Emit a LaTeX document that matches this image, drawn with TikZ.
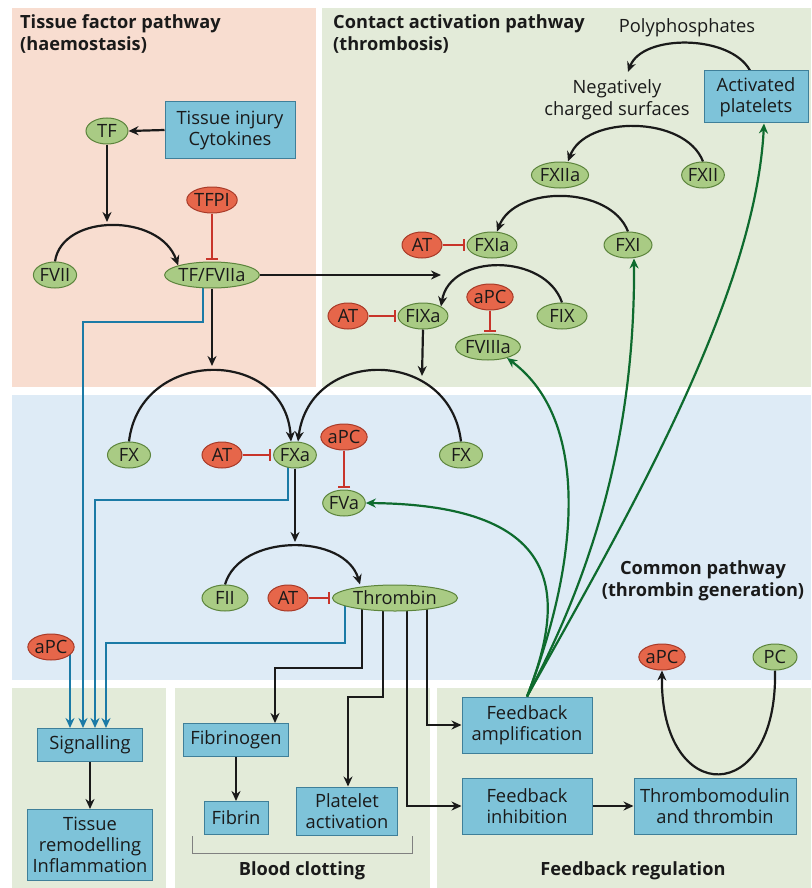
\documentclass[tikz,border=0pt]{standalone}
\usepackage{fontspec}
\setmainfont{Open Sans}
\usetikzlibrary{arrows.meta,shapes.geometric}
\definecolor{salmonbg}{HTML}{F8DDD0}
\definecolor{greenbg}{HTML}{E3EBD9}
\definecolor{bluebg}{HTML}{DEEBF6}
\definecolor{boxfill}{HTML}{7EC3D9}
\definecolor{boxedge}{HTML}{3F7F99}
\definecolor{gfill}{HTML}{A9CB84}
\definecolor{gedge}{HTML}{5C843C}
\definecolor{rfill}{HTML}{E6664A}
\definecolor{redge}{HTML}{A83A28}
\definecolor{inhred}{HTML}{C8342A}
\definecolor{sigblue}{HTML}{1B7AA6}
\definecolor{fbgreen}{HTML}{0E6B2E}
\definecolor{ink}{HTML}{1A1A1A}
\pgfdeclarelayer{bg}
\pgfdeclarelayer{mid}
\pgfsetlayers{bg,mid,main}
\begin{document}
\begin{tikzpicture}[x=1pt,y=-1pt,
  font=\fontsize{18.3}{21}\selectfont, text=ink,
  gnode/.style={ellipse, draw=gedge, fill=gfill, line width=1pt, inner xsep=0pt, inner ysep=0pt, minimum height=26pt},
  rnode/.style={ellipse, draw=redge, fill=rfill, line width=1pt, inner xsep=0pt, inner ysep=0pt, minimum height=26pt},
  bbox/.style={rectangle, draw=boxedge, fill=boxfill, line width=1pt, align=center, inner sep=2pt},
  ttl/.style={font=\bfseries\fontsize{18.2}{22}\selectfont, align=left, inner sep=0pt},
  ctl/.style={font=\bfseries\fontsize{18.2}{22}\selectfont, align=center, inner sep=0pt},
  blk/.style={line width=2.2pt, draw=ink, -{Stealth[length=10pt,width=9pt]}},
  inh/.style={line width=2pt, draw=inhred, -{Bar[width=12pt,line width=2pt]}, shorten >=2pt},
  bl/.style={line width=2.2pt, draw=sigblue, -{Stealth[length=10pt,width=9pt]}},
  gr/.style={line width=2.2pt, draw=fbgreen, -{Stealth[length=10pt,width=9pt]}}
]
\useasboundingbox (0,0) rectangle (811,888);

% panels
\begin{pgfonlayer}{bg}
\fill[white] (0,0) rectangle (811,888);
\fill[salmonbg] (12,8) rectangle (316,387);
\fill[greenbg] (322,8) rectangle (811,387);
\fill[bluebg] (12,395) rectangle (811,680);
\fill[greenbg] (12,688) rectangle (166,888);
\fill[greenbg] (175,688) rectangle (430,888);
\fill[greenbg] (437,688) rectangle (811,888);
\end{pgfonlayer}

% titles
\node[ttl, anchor=north west] (t1) at (20,14) {Tissue factor pathway\\(haemostasis)};
\node[ttl, anchor=north west] (t2) at (333,14) {Contact activation pathway\\(thrombosis)};
\node[ctl] (t3) at (703,581) {Common pathway\\(thrombin generation)};
\node[ctl] (t4) at (302,871) {Blood clotting};
\node[ctl] (t5) at (633,871) {Feedback regulation};

% tissue factor pathway
\node[gnode, minimum width=42pt] (TF) at (107,131) {TF};
\node[bbox, minimum width=130pt, minimum height=56pt] (inj) at (230,130) {Tissue injury\\Cytokines};
\node[rnode] (TFPI) at (212,200) {TFPI};
\node[gnode] (FVII) at (55,275) {FVII};
\node[gnode] (TFVIIa) at (212,275) {TF/FVIIa};

% contact pathway
\node[inner sep=0pt] (poly) at (687,28) {Polyphosphates};
\node[inner sep=0pt, align=center, font=\fontsize{18.3}{22}\selectfont] (neg) at (617,100) {Negatively\\charged surfaces};
\node[bbox, minimum width=104pt, minimum height=52pt] (actp) at (756,97) {Activated\\platelets};
\node[gnode] (FXIIa) at (560,175) {FXIIa};
\node[gnode] (FXII) at (703,175) {FXII};
\node[rnode, minimum width=40pt] (AT1) at (422,245) {AT};
\node[gnode] (FXIa) at (492,245) {FXIa};
\node[gnode, minimum width=48pt] (FXI) at (628,245) {FXI};
\node[rnode, minimum width=40pt] (AT2) at (348,316) {AT};
\node[gnode] (FIXa) at (423,316) {FIXa};
\node[rnode] (aPC1) at (490,297) {aPC};
\node[gnode] (FVIIIa) at (488,347) {FVIIIa};
\node[gnode, minimum width=50pt] (FIX) at (562,316) {FIX};

% common pathway
\node[gnode, minimum width=43pt] (FXl) at (129,455) {FX};
\node[rnode, minimum width=40pt] (AT3) at (222,455) {AT};
\node[gnode] (FXa) at (295,455) {FXa};
\node[rnode] (aPC2) at (344,437) {aPC};
\node[gnode] (FVa) at (344,503) {FVa};
\node[gnode, minimum width=43pt] (FXr) at (461,455) {FX};
\node[gnode, minimum width=46pt] (FII) at (225,598) {FII};
\node[rnode, minimum width=40pt] (AT4) at (288,598) {AT};
\node[gnode, minimum width=125pt] (Thr) at (395,598) {Thrombin};
\node[rnode] (aPC3) at (51,647) {aPC};
\node[rnode] (aPC4) at (662,657) {aPC};
\node[gnode, minimum width=44pt] (PC) at (775,657) {PC};

% bottom boxes
\node[bbox, minimum width=105pt, minimum height=33pt] (Sig) at (90,745) {Signalling};
\node[bbox, minimum width=125pt, minimum height=71pt] (Rem) at (90,845) {Tissue\\remodelling\\Inflammation};
\node[bbox, minimum width=105pt, minimum height=33pt] (Fbg) at (236,740) {Fibrinogen};
\node[bbox, minimum width=64pt, minimum height=33pt] (Fbn) at (236,818) {Fibrin};
\node[bbox, minimum width=101pt, minimum height=48pt] (Plt) at (347,811) {Platelet\\activation};
\node[bbox, minimum width=130pt, minimum height=56pt] (Famp) at (527,725) {Feedback\\amplification};
\node[bbox, minimum width=130pt, minimum height=56pt] (Finh) at (527,806) {Feedback\\inhibition};
\node[bbox, minimum width=162pt, minimum height=56pt] (Tmod) at (715,806) {Thrombomodulin\\and thrombin};

\coordinate (ixarc) at (441,275);
\coordinate (txarc) at (107,222);
\coordinate (fxarcL) at (212,366);
\coordinate (fxarcR) at (422,376);
\coordinate (fiiarc) at (295,542);

\begin{pgfonlayer}{mid}
% bracket
\draw[gray, line width=0.8pt] (192,836) -- (192,853) -- (412,853) -- (412,836);

% black arrows
\draw[blk] (inj.west) -- (TF.east);
\draw[blk] (TF.south) -- (txarc);
\draw[blk] (FVII.north) .. controls (62,213) and (160,213) .. (TFVIIa.north west);
\draw[blk] (TFVIIa.east) -- (ixarc);
\draw[blk] (TFVIIa.south) -- (fxarcL);
\draw[blk] ([xshift=-6pt]actp.north) .. controls (730,34) and (642,34) .. (628,72);
\draw[blk] (FXII.north) .. controls (685,115) and (585,115) .. ([xshift=8pt]FXIIa.north);
\draw[blk] (FXI.north) .. controls (610,185) and (515,185) .. ([xshift=5pt]FXIa.north);
\draw[blk] (FIX.north) .. controls (545,253) and (450,253) .. (FIXa.north east);
\draw[blk] (FIXa.south) -- (fxarcR);
\draw[blk] (FXl.north) .. controls (140,347) and (285,347) .. ([xshift=-4pt]FXa.north);
\draw[blk] (FXr.north) .. controls (450,347) and (310,347) .. ([xshift=3pt]FXa.north);
\draw[blk] (FXa.south) -- (fiiarc);
\draw[blk] (FII.north) .. controls (240,533) and (345,533) .. ([xshift=-35pt]Thr.north);
\draw[blk] (PC.south) .. controls (778,808) and (660,808) .. (aPC4.south);
\draw[blk] ([xshift=-33pt]Thr.center) |- (275,668) -- ([xshift=39pt]Fbg.north);
\draw[blk] ([xshift=-12pt]Thr.center) |- (348,697) -- ([xshift=1pt]Plt.north);
\draw[blk] ([xshift=12pt]Thr.center) |- (Finh.west);
\draw[blk] ([xshift=32pt]Thr.center) |- (Famp.west);
\draw[blk] (Fbg.south) -- (Fbn.north);
\draw[blk] (Sig.south) -- (Rem.north);
\draw[blk] (Finh.east) -- (Tmod.west);

% inhibitors
\draw[inh] (TFPI.south) -- (TFVIIa.north);
\draw[inh] (AT1.east) -- (FXIa.west);
\draw[inh] (AT2.east) -- (FIXa.west);
\draw[inh] (aPC1.south) -- (aPC1.south |- FVIIIa.north);
\draw[inh] (AT3.east) -- (FXa.west);
\draw[inh] (aPC2.south) -- (FVa.north);
\draw[inh] (AT4.east) -- (Thr.west);

% signalling (blue)
\draw[bl] ([xshift=-9pt]TFVIIa.center) |- (83,322) -- ([xshift=-7pt]Sig.north);
\draw[bl] ([xshift=-7pt]FXa.center) |- (95,500) -- ([xshift=5pt]Sig.north);
\draw[bl] ([xshift=-50pt]Thr.center) |- (106,643) -- ([xshift=16pt]Sig.north);
\draw[bl] ([xshift=19pt]aPC3.center) -- ([xshift=-20pt]Sig.north);

% feedback amplification (green)
\draw[gr] (Famp.north) .. controls (565,600) and (570,505) .. (FVa.east);
\draw[gr] (Famp.north) .. controls (580,560) and (590,420) .. (FVIIIa.-30);
\draw[gr] (Famp.north) .. controls (600,560) and (635,420) .. ([xshift=6pt]FXI.south);
\draw[gr] (Famp.north) .. controls (620,530) and (755,300) .. ([xshift=8pt]actp.south);
\end{pgfonlayer}
\end{tikzpicture}
\end{document}
